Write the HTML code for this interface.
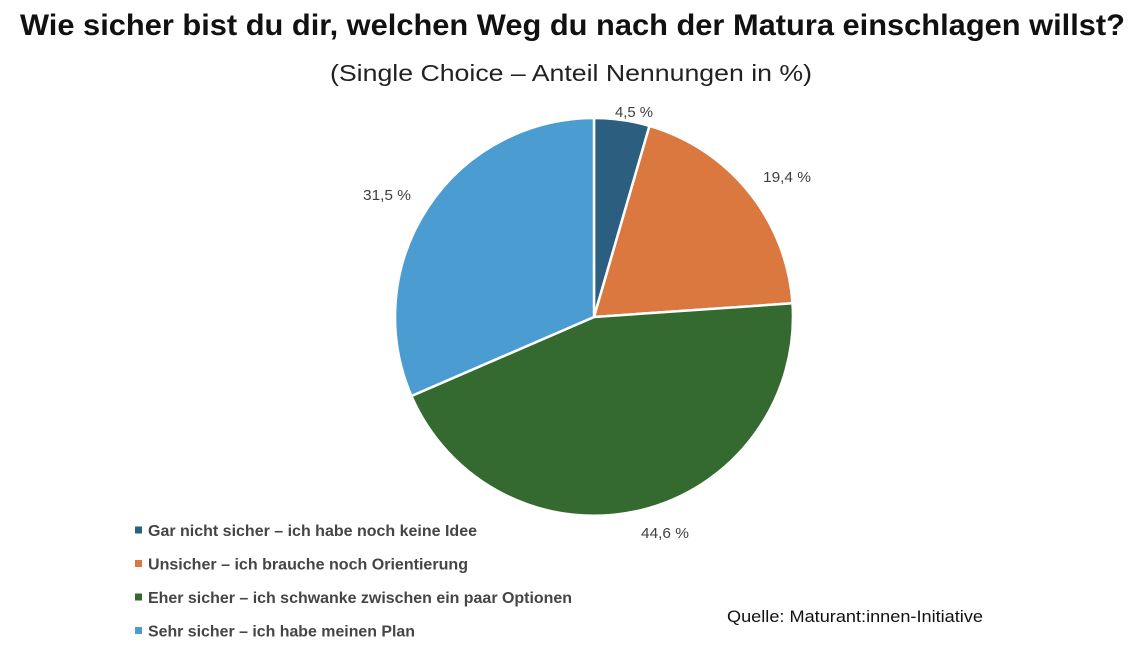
<!DOCTYPE html>
<html>
<head>
<meta charset="utf-8">
<style>
  html, body { margin: 0; padding: 0; background: #ffffff; }
  body { width: 1139px; height: 649px; overflow: hidden; }
  svg { display: block; }
  text { font-family: "Liberation Sans", sans-serif; }
</style>
</head>
<body>
<svg width="1139" height="649" viewBox="0 0 1139 649" xmlns="http://www.w3.org/2000/svg">
  <rect x="0" y="0" width="1139" height="649" fill="#ffffff"/>

  <!-- Title -->
  <text x="20" y="35" font-size="30" font-weight="bold" fill="#111111" textLength="1105" lengthAdjust="spacingAndGlyphs">Wie sicher bist du dir, welchen Weg du nach der Matura einschlagen willst?</text>
  <!-- Subtitle -->
  <text x="330" y="81" font-size="23" fill="#222222" textLength="482" lengthAdjust="spacingAndGlyphs">(Single Choice – Anteil Nennungen in %)</text>

  <!-- Pie -->
  <g stroke="#ffffff" stroke-width="2.5" stroke-linejoin="round">
    <path d="M594,317 L594,118 A199,199 0 0 1 649.5,125.9 Z" fill="#2C5E7F"/>
    <path d="M594,317 L649.5,125.9 A199,199 0 0 1 792.5,303.3 Z" fill="#DA7840"/>
    <path d="M594,317 L792.5,303.3 A199,199 0 0 1 411.4,396 Z" fill="#346A2F"/>
    <path d="M594,317 L411.4,396 A199,199 0 0 1 594,118 Z" fill="#4B9CD1"/>
  </g>

  <!-- Data labels -->
  <g font-size="15" fill="#404040">
    <text x="615" y="117" textLength="38" lengthAdjust="spacingAndGlyphs">4,5 %</text>
    <text x="763" y="182" textLength="48" lengthAdjust="spacingAndGlyphs">19,4 %</text>
    <text x="363" y="200" textLength="48" lengthAdjust="spacingAndGlyphs">31,5 %</text>
    <text x="641" y="538" textLength="48" lengthAdjust="spacingAndGlyphs">44,6 %</text>
  </g>

  <!-- Legend -->
  <rect x="135" y="526.5" width="7" height="7" fill="#2C5E7F"/>
  <rect x="135" y="560" width="7" height="7" fill="#DA7840"/>
  <rect x="135" y="593.5" width="7" height="7" fill="#346A2F"/>
  <rect x="135" y="627" width="7" height="7" fill="#4B9CD1"/>
  <g font-size="16" font-weight="bold" fill="#454545">
    <text x="148" y="536" textLength="329" lengthAdjust="spacingAndGlyphs">Gar nicht sicher – ich habe noch keine Idee</text>
    <text x="148" y="569.5" textLength="320" lengthAdjust="spacingAndGlyphs">Unsicher – ich brauche noch Orientierung</text>
    <text x="148" y="603" textLength="424" lengthAdjust="spacingAndGlyphs">Eher sicher – ich schwanke zwischen ein paar Optionen</text>
    <text x="148" y="636.5" textLength="267" lengthAdjust="spacingAndGlyphs">Sehr sicher – ich habe meinen Plan</text>
  </g>

  <!-- Source -->
  <text x="727" y="622" font-size="17" fill="#111111" textLength="256" lengthAdjust="spacingAndGlyphs">Quelle: Maturant:innen-Initiative</text>
</svg>
</body>
</html>
